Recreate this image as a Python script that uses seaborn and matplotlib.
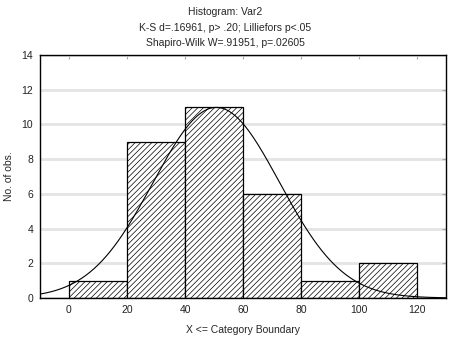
import numpy as np
import pandas as pd
import matplotlib
matplotlib.use("Agg")
import matplotlib.pyplot as plt
import seaborn as sns

# Histogram bins (upper category boundaries) and observed counts
bin_edges = [0, 20, 40, 60, 80, 100, 120]
counts = [1, 9, 11, 6, 1, 2]
n_obs = 30

# Fitted normal distribution parameters
fit_mean = 50.8
fit_sd = 21.8

title_lines = [
    "Histogram: Var2",
    "K-S d=.16961, p> .20; Lilliefors p<.05",
    "Shapiro-Wilk W=.91951, p=.02605",
]
x_label = "X <= Category Boundary"
y_label = "No. of obs."
x_ticks = [0, 20, 40, 60, 80, 100, 120]
y_ticks = [0, 2, 4, 6, 8, 10, 12, 14]

sns.set_style("white")
plt.rcParams["font.family"] = ["Liberation Sans", "DejaVu Sans"]
plt.rcParams["hatch.linewidth"] = 0.5

fig = plt.figure(figsize=(4.51, 3.40), dpi=100)
ax = fig.add_axes([40 / 451, 42 / 340, 406 / 451, 243 / 340])

mids = [(a + b) / 2 for a, b in zip(bin_edges[:-1], bin_edges[1:])]
hist_df = pd.DataFrame({"x": mids, "w": counts})
sns.histplot(data=hist_df, x="x", weights="w", bins=bin_edges, ax=ax,
             color="white", edgecolor="black", linewidth=0.9, alpha=1,
             hatch="//////", zorder=2)

# Expected frequency curve of the fitted normal
bin_width = bin_edges[1] - bin_edges[0]
xs = np.linspace(-10, 130, 400)
ys = n_obs * bin_width * np.exp(-0.5 * ((xs - fit_mean) / fit_sd) ** 2) / (fit_sd * np.sqrt(2 * np.pi))
sns.lineplot(x=xs, y=ys, ax=ax, color="black", linewidth=0.8, zorder=3)

ax.set_xlim(-10, 130)
ax.set_ylim(0, 14)
ax.set_xticks(x_ticks)
ax.set_yticks(y_ticks)
ax.yaxis.grid(True, color="#e4e4e4", linewidth=2, zorder=0)
ax.set_axisbelow(True)
for s in ax.spines.values():
    s.set_color("black")
    s.set_linewidth(1.0)

ax.tick_params(axis="both", labelsize=7.5, colors="#222222", length=0, pad=5)
ax.tick_params(top=True, right=True, direction="in", length=3, color="#aaaaaa",
               which="both", bottom=False, left=False)

ax.set_xlabel(x_label, fontsize=7.5, labelpad=7)
ax.set_ylabel(y_label, fontsize=7.5)
ax.yaxis.set_label_coords(-26 / 406, 0.5)

fig.text(0.5, 1 - 12 / 340, title_lines[0], ha="center", va="center", fontsize=7.5)
fig.text(0.5, 1 - 28 / 340, title_lines[1], ha="center", va="center", fontsize=7.5)
fig.text(0.5, 1 - 43 / 340, title_lines[2], ha="center", va="center", fontsize=7.5)

fig.savefig("out.png", dpi=100)
